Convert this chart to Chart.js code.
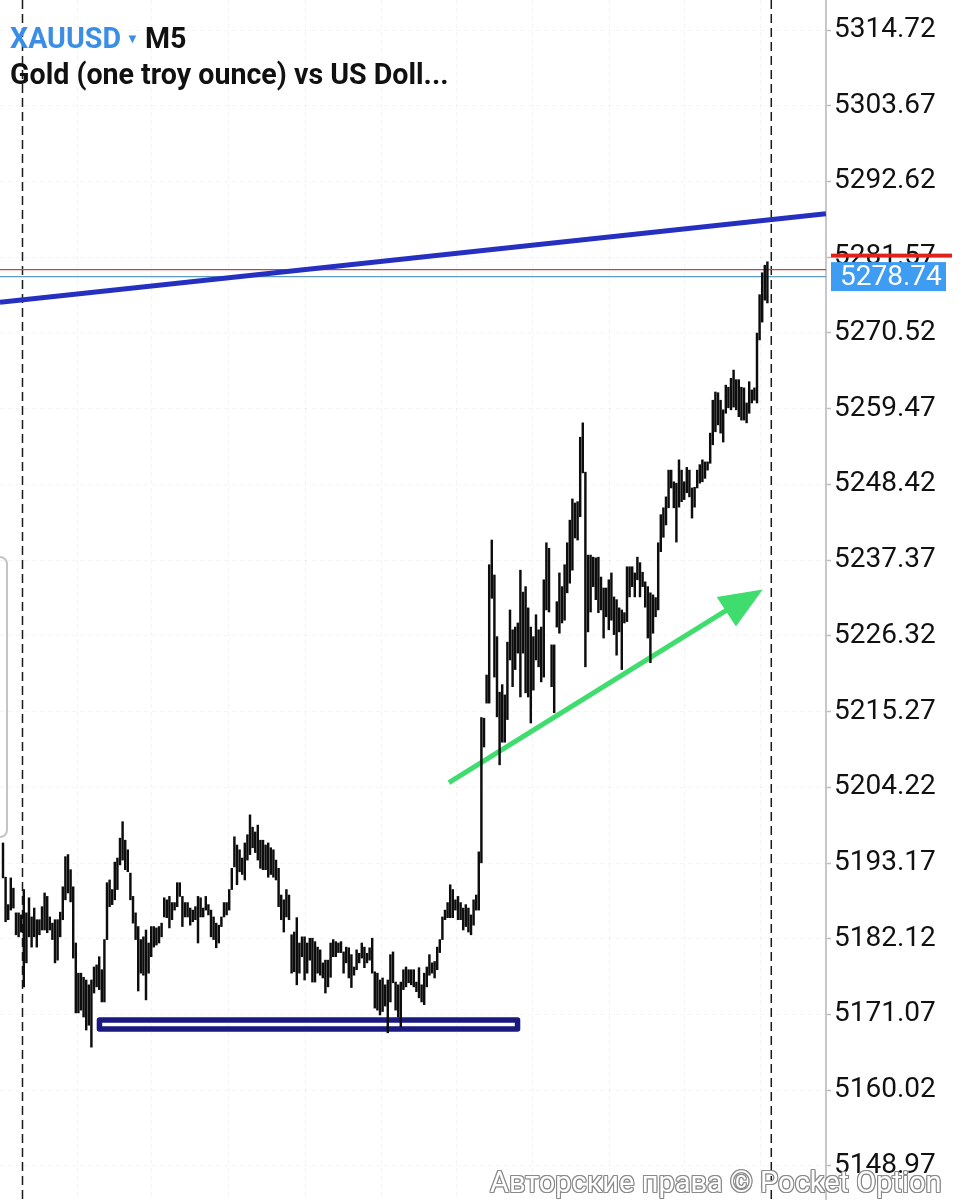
<!DOCTYPE html>
<html>
<head>
<meta charset="utf-8">
<script src="https://cdn.jsdelivr.net/npm/chart.js@4.4.1/dist/chart.umd.min.js"></script>
<style>
  html, body { margin: 0; padding: 0; background: #fff; }
  #wrap { position: relative; width: 961px; height: 1200px; overflow: hidden; }
  canvas { display: block; }
  .hdr { position: absolute; left: 10px; font-family: Roboto, sans-serif; font-weight: 700; font-size: 28.6px; color: #111; white-space: nowrap; }
  .sym { color: #3a8ee6; }
  .tri { color: #3a8ee6; font-size: 13px; vertical-align: 5px; margin: 0 6px 0 5px; }
  .wm { position: absolute; left: 490px; top: 1165px; font-family: Roboto, sans-serif; font-size: 29px; color: #fff; white-space: nowrap;
        text-shadow: -1px -1px 0 #8a8a8a, 1px -1px 0 #8a8a8a, -1px 1px 0 #8a8a8a, 1px 1px 0 #8a8a8a, 0 1px 0 #8a8a8a, 0 -1px 0 #8a8a8a, 1px 0 0 #8a8a8a, -1px 0 0 #8a8a8a; }
  .panel { position: absolute; left: -14px; top: 556px; width: 18px; height: 278px; border: 2px solid #c4c4c4; border-radius: 8px; }
</style>
</head>
<body>
<div id="wrap">
  <canvas id="chart" width="961" height="1200"></canvas>
  <div class="panel"></div>
  <div class="hdr" style="top:21px"><span class="sym">XAUUSD</span><span class="tri">▼</span>M5</div>
  <div class="hdr" style="top:57px">Gold (one troy ounce) vs US Doll...</div>
  <div class="wm">Авторские права © Pocket Option</div>
</div>
<script>
// XAUUSD M5 bars, high / low of each bar (left to right)
const highs = [
  5196.1, 5191.1, 5187.1, 5191.0, 5189.5, 5185.9, 5185.9, 5185.6, 5189.3, 5185.9,
  5188.1, 5185.3, 5186.6, 5184.9, 5184.9, 5186.8, 5188.8, 5188.3, 5185.3, 5184.4,
  5184.9, 5184.9, 5186.0, 5189.7, 5194.1, 5194.4, 5192.2, 5189.7, 5181.5, 5177.1,
  5177.1, 5176.5, 5176.1, 5175.4, 5176.1, 5178.0, 5178.3, 5179.5, 5177.6, 5182.0,
  5190.3, 5190.7, 5189.3, 5193.3, 5193.9, 5196.8, 5199.2, 5196.5, 5195.1, 5191.7,
  5188.3, 5185.9, 5183.9, 5182.0, 5182.4, 5183.4, 5181.5, 5183.9, 5183.9, 5183.7,
  5183.9, 5184.4, 5188.1, 5187.8, 5188.3, 5187.4, 5187.4, 5190.3, 5190.3, 5188.3,
  5187.4, 5187.4, 5186.6, 5186.3, 5186.8, 5188.3, 5188.1, 5186.6, 5188.3, 5187.1,
  5186.3, 5185.3, 5184.4, 5184.1, 5185.3, 5187.4, 5187.4, 5189.3, 5192.4, 5197.0,
  5195.8, 5195.1, 5193.9, 5196.1, 5197.3, 5200.2, 5198.4, 5197.7, 5198.7, 5196.5,
  5196.5, 5195.8, 5196.1, 5195.4, 5195.1, 5193.6, 5192.4, 5188.5, 5187.8, 5189.3,
  5188.5, 5182.7, 5183.1, 5185.2, 5181.5, 5182.4, 5182.4, 5181.5, 5182.2, 5182.2,
  5181.7, 5180.9, 5180.5, 5178.6, 5179.0, 5179.0, 5181.5, 5182.0, 5181.7, 5181.5,
  5181.7, 5180.2, 5180.9, 5180.8, 5179.8, 5178.0, 5180.5, 5180.0, 5181.5, 5180.9,
  5180.0, 5180.8, 5182.2, 5177.3, 5177.1, 5176.1, 5176.4, 5175.4, 5176.1, 5179.8,
  5180.2, 5175.8, 5175.4, 5175.8, 5177.6, 5178.0, 5177.6, 5177.6, 5177.6, 5175.8,
  5177.9, 5175.4, 5177.1, 5178.0, 5179.8, 5178.6, 5178.8, 5180.9, 5182.0, 5185.3,
  5186.3, 5187.4, 5190.0, 5189.3, 5187.8, 5188.3, 5187.4, 5186.6, 5187.1, 5186.6,
  5185.6, 5187.8, 5188.5, 5194.8, 5214.4, 5214.3, 5220.6, 5236.7, 5240.3, 5235.2,
  5226.2, 5218.1, 5219.2, 5217.7, 5225.4, 5230.1, 5227.2, 5227.6, 5228.2, 5235.9,
  5232.7, 5233.5, 5230.4, 5227.6, 5226.2, 5229.4, 5227.2, 5227.6, 5234.5, 5239.9,
  5239.1, 5225.0, 5225.0, 5231.3, 5235.5, 5233.5, 5236.7, 5239.9, 5243.2, 5246.3,
  5245.7, 5245.9, 5255.3, 5257.4, 5250.2, 5238.1, 5238.1, 5237.8, 5237.7, 5237.8,
  5234.9, 5233.3, 5233.3, 5234.5, 5235.5, 5232.0, 5231.6, 5230.4, 5230.1, 5229.7,
  5236.4, 5236.4, 5236.4, 5235.5, 5237.8, 5237.0, 5235.6, 5234.2, 5233.5, 5232.6,
  5232.3, 5231.9, 5239.9, 5244.0, 5245.0, 5246.6, 5250.5, 5250.5, 5248.8, 5248.6,
  5252.0, 5250.5, 5248.8, 5250.9, 5250.5, 5247.9, 5248.0, 5250.5, 5251.3, 5252.0,
  5251.7, 5251.7, 5255.9, 5260.7, 5261.9, 5261.8, 5260.7, 5259.3, 5262.9, 5262.6,
  5263.9, 5265.1, 5263.7, 5263.7, 5262.6, 5262.5, 5260.3, 5263.4, 5262.2, 5262.5,
  5270.5, 5276.1, 5279.3, 5280.4, 5280.9
];
const lows = [
  5191.0, 5184.6, 5184.9, 5186.3, 5186.6, 5182.7, 5182.4, 5183.1, 5175.1, 5178.6,
  5182.4, 5180.9, 5182.4, 5180.9, 5182.7, 5183.4, 5183.4, 5183.0, 5183.4, 5182.0,
  5178.6, 5179.0, 5182.4, 5184.9, 5187.8, 5188.8, 5187.5, 5179.3, 5171.3, 5171.3,
  5171.7, 5170.7, 5168.8, 5169.5, 5166.3, 5174.2, 5175.1, 5174.7, 5172.9, 5172.9,
  5182.0, 5186.8, 5187.1, 5187.8, 5189.3, 5192.9, 5193.6, 5192.2, 5191.9, 5187.8,
  5184.4, 5182.0, 5174.5, 5177.1, 5176.8, 5173.2, 5177.1, 5179.5, 5180.9, 5181.2,
  5181.5, 5182.4, 5185.3, 5185.2, 5183.7, 5184.9, 5186.3, 5186.8, 5188.3, 5183.9,
  5185.3, 5185.3, 5184.1, 5184.6, 5184.9, 5181.5, 5185.3, 5185.3, 5186.3, 5185.6,
  5182.4, 5182.0, 5180.8, 5181.5, 5183.9, 5185.3, 5185.6, 5186.3, 5189.3, 5192.6,
  5190.0, 5191.9, 5191.5, 5190.7, 5193.6, 5194.4, 5195.4, 5194.7, 5193.6, 5192.4,
  5192.2, 5192.2, 5191.1, 5191.5, 5191.1, 5190.7, 5186.8, 5184.9, 5183.1, 5185.3,
  5184.9, 5177.1, 5177.3, 5175.4, 5177.1, 5179.5, 5176.1, 5177.1, 5179.0, 5175.8,
  5175.8, 5177.1, 5176.8, 5176.4, 5174.2, 5175.1, 5176.5, 5179.5, 5179.5, 5180.1,
  5180.1, 5177.1, 5178.6, 5176.4, 5175.0, 5176.8, 5177.6, 5178.6, 5179.3, 5177.9,
  5178.6, 5179.0, 5177.1, 5172.0, 5171.7, 5171.0, 5171.5, 5172.3, 5168.4, 5172.9,
  5175.7, 5171.7, 5170.7, 5169.3, 5174.7, 5175.1, 5175.7, 5175.4, 5175.1, 5174.4,
  5173.5, 5172.9, 5172.5, 5175.1, 5176.8, 5177.1, 5176.4, 5177.6, 5180.1, 5182.0,
  5184.9, 5185.2, 5185.2, 5185.2, 5186.3, 5184.9, 5184.9, 5183.4, 5183.9, 5183.1,
  5182.7, 5184.1, 5186.3, 5186.3, 5193.2, 5210.1, 5216.5, 5216.5, 5231.8, 5220.3,
  5214.5, 5207.5, 5210.8, 5210.8, 5214.1, 5222.8, 5218.9, 5221.4, 5223.8, 5217.4,
  5223.8, 5218.0, 5217.4, 5213.6, 5218.4, 5222.8, 5221.8, 5219.6, 5220.3, 5230.1,
  5229.8, 5218.9, 5215.1, 5227.6, 5226.7, 5228.2, 5228.6, 5232.6, 5234.0, 5235.9,
  5240.6, 5240.3, 5243.7, 5250.1, 5221.8, 5226.9, 5229.8, 5233.5, 5231.6, 5229.7,
  5230.1, 5226.0, 5229.1, 5227.2, 5228.6, 5226.5, 5223.5, 5226.9, 5221.4, 5228.2,
  5228.4, 5232.0, 5233.5, 5232.0, 5234.5, 5232.0, 5233.5, 5230.5, 5226.0, 5222.4,
  5226.7, 5229.1, 5230.1, 5238.6, 5240.7, 5242.5, 5245.0, 5247.9, 5245.0, 5240.0,
  5245.1, 5245.9, 5246.2, 5247.2, 5246.6, 5243.5, 5245.1, 5247.9, 5248.6, 5248.8,
  5249.3, 5250.5, 5251.5, 5254.2, 5256.1, 5257.1, 5255.9, 5254.6, 5258.8, 5259.6,
  5259.3, 5259.7, 5259.3, 5258.3, 5257.8, 5257.8, 5257.4, 5258.8, 5260.3, 5260.7,
  5260.3, 5269.5, 5272.1, 5275.3, 5274.9
];

const priceTicks = [5148.97, 5160.02, 5171.07, 5182.12, 5193.17, 5204.22, 5215.27, 5226.32,
                    5237.37, 5248.42, 5259.47, 5270.52, 5281.57, 5292.62, 5303.67, 5314.72];
const gridBars = [28.5, 57.3, 86.9, 116.2, 145.4, 174.6, 203.8, 233.1, 262.3, 291.5];
const sessionBreaks = [7.5, 295.5];

const lastPrice = 5278.74;
const askLine = 5279.75;
const alertLevel = 5281.8;

// drawings on the chart (bar index, price)
const trendX = [-1.15, 316.5], trendY = [5275.0, 5287.9];
const supportX = [37.1, 197.9, 197.9, 37.1, 37.1], supportY = [5170.25, 5170.25, 5168.95, 5168.95, 5170.25];
const arrowX = [171.5, 278.5], arrowY = [5204.9, 5230.1];
const headX = [274.5, 292.2, 281.9], headY = [5232.0, 5233.1, 5227.7];

const xMin = -1.154, xMax = 316.54;
const yMin = 5144.0, yMax = 5319.1;

const pts = (xs, ys) => xs.map((v, k) => ({ x: v, y: ys[k] }));
const flat = (p) => [{ x: xMin, y: p }, { x: xMax, y: p }];

const sessionLines = {
  id: 'sessionLines',
  beforeDatasetsDraw(chart) {
    const { ctx, chartArea, scales: { x } } = chart;
    ctx.save();
    ctx.strokeStyle = '#1a1a1a';
    ctx.lineWidth = 1.5;
    ctx.setLineDash([9, 5]);
    sessionBreaks.forEach(v => {
      const px = x.getPixelForValue(v);
      ctx.beginPath();
      ctx.moveTo(px, chartArea.top);
      ctx.lineTo(px, chartArea.bottom);
      ctx.stroke();
    });
    ctx.restore();
  }
};

const marks = {
  id: 'marks',
  afterDatasetsDraw(chart) {
    const { ctx, scales: { x, y } } = chart;
    ctx.save();
    ctx.fillStyle = '#3fdc6e';
    ctx.beginPath();
    headX.forEach((v, k) => {
      const px = x.getPixelForValue(v), py = y.getPixelForValue(headY[k]);
      if (k) ctx.lineTo(px, py); else ctx.moveTo(px, py);
    });
    ctx.closePath();
    ctx.fill();
    ctx.restore();
  },
  afterDraw(chart) {
    const { ctx, chartArea, scales: { y } } = chart;
    const left = chartArea.right + 5;
    ctx.save();
    ctx.fillStyle = '#e1211b';
    ctx.fillRect(left, y.getPixelForValue(alertLevel) - 2, 121, 4);
    const yc = y.getPixelForValue(lastPrice);
    ctx.fillStyle = '#3f9cf3';
    ctx.fillRect(left, yc - 14.5, 115, 29);
    ctx.fillStyle = '#fff';
    ctx.font = '28px Roboto';
    ctx.textBaseline = 'middle';
    ctx.fillText(lastPrice.toFixed(2), left + 9, yc + 1);
    ctx.restore();
  }
};

new Chart(document.getElementById('chart'), {
  type: 'bar',
  data: {
    datasets: [
      {
        label: 'XAUUSD',
        data: highs.map((h, k) => ({ x: k, y: [lows[k], h] })),
        backgroundColor: '#0d0d0d',
        barThickness: 1.8,
        borderWidth: 0
      },
      { type: 'line', data: pts(arrowX, arrowY), borderColor: '#3fdc6e', borderWidth: 5, pointRadius: 0, borderCapStyle: 'butt' },
      { type: 'line', data: pts(trendX, trendY), borderColor: '#2630c0', borderWidth: 5, pointRadius: 0 },
      { type: 'line', data: pts(supportX, supportY), borderColor: '#19197f', borderWidth: 5.5, pointRadius: 0,
        borderJoinStyle: 'round', borderCapStyle: 'round' },
      { type: 'line', data: flat(askLine), borderColor: '#c24646', borderWidth: 1.4, pointRadius: 0 },
      { type: 'line', data: flat(lastPrice), borderColor: '#5c9cbf', borderWidth: 1.2, pointRadius: 0 }
    ]
  },
  options: {
    responsive: false,
    devicePixelRatio: 1,
    animation: false,
    layout: { padding: 0 },
    plugins: { legend: { display: false }, tooltip: { enabled: false } },
    scales: {
      x: {
        type: 'linear',
        min: xMin,
        max: xMax,
        offset: false,
        grid: { offset: false, color: 'rgba(0,0,0,0.045)', drawTicks: false },
        border: { display: false, dash: [4, 4] },
        ticks: { display: false },
        afterBuildTicks: s => { s.ticks = gridBars.map(v => ({ value: v })); },
        afterFit: s => { s.height = 0; s.paddingLeft = 0; s.paddingRight = 0; }
      },
      y: {
        position: 'right',
        min: yMin,
        max: yMax,
        grid: { color: 'rgba(0,0,0,0.045)', tickColor: '#bdbdbd', tickLength: 5, tickWidth: 1.5 },
        border: { color: '#c8c8c8', width: 2, dash: [4, 4] },
        ticks: {
          color: '#111',
          padding: 3,
          font: { family: 'Roboto', size: 28 },
          callback: v => v.toFixed(2)
        },
        afterBuildTicks: s => { s.ticks = priceTicks.map(v => ({ value: v })); },
        afterFit: s => { s.width = 135; s.paddingTop = 0; s.paddingBottom = 0; }
      }
    }
  },
  plugins: [sessionLines, marks]
});
</script>
</body>
</html>
